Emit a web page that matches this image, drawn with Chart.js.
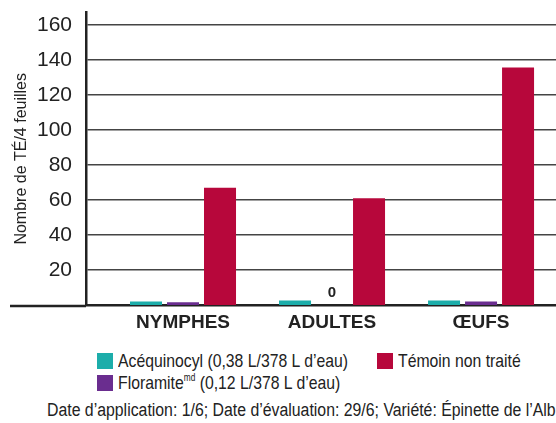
<!DOCTYPE html>
<html>
<head>
<meta charset="utf-8">
<style>
  html, body { margin: 0; padding: 0; background: #fff; overflow: hidden; }
  body { width: 556px; height: 423px; font-family: "Liberation Sans", Arial, sans-serif; color: #222; }
  #wrap { position: relative; width: 556px; height: 340px; }
  .legend { position: absolute; left: 97px; top: 352px; font-size: 19px; line-height: 18px; }
  .legend .item { position: absolute; white-space: nowrap; }
  .legend .sw { display: inline-block; width: 16px; height: 16px; vertical-align: -2px; margin-right: 5px; }
  .legend .txt { display: inline-block; transform: scaleX(0.83); transform-origin: left center; }
  .legend sup { font-size: 10px; vertical-align: 8px; line-height: 0; }
  .note { position: absolute; left: 47px; top: 400px; font-size: 18px; white-space: nowrap;
          transform: scaleX(0.88); transform-origin: left center; }
</style>
</head>
<body>
<div id="wrap"><canvas id="chart" width="556" height="340"></canvas></div>
<div class="legend">
  <div class="item" style="left:0;top:0"><span class="sw" style="background:#1cadaa"></span><span class="txt">Acéquinocyl (0,38 L/378 L d’eau)</span></div>
  <div class="item" style="left:280px;top:0"><span class="sw" style="background:#b7073b"></span><span class="txt">Témoin non traité</span></div>
  <div class="item" style="left:0;top:22px"><span class="sw" style="background:#6a2d8f"></span><span class="txt">Floramite<sup>md</sup> (0,12 L/378 L d’eau)</span></div>
</div>
<div class="note">Date d’application: 1/6; Date d’évaluation: 29/6; Variété: Épinette de l’Alberta</div>

<script src="https://cdn.jsdelivr.net/npm/chart.js"></script>
<script>
  const categories = ['NYMPHES', 'ADULTES', 'ŒUFS'];
  const acequinocyl = [2, 2.5, 2.5];
  const floramite = [1.5, 0, 2];
  const temoin = [67, 61, 135.7];
  const yTicks = [20, 40, 60, 80, 100, 120, 140, 160];

  const FONT = '"Liberation Sans", Arial, sans-serif';
  const Y_TOP = 167;

  const toPoints = arr => arr.map((v, i) => ({ x: i, y: v }));

  // "0" label over the empty Floramite bar, and the baseline running left past the axis
  const extras = {
    id: 'extras',
    afterDatasetsDraw(chart) {
      const c = chart.ctx;
      const meta = chart.getDatasetMeta(1);
      c.save();
      c.font = 'bold 15px ' + FONT;
      c.fillStyle = '#222';
      c.textAlign = 'center';
      c.textBaseline = 'middle';
      floramite.forEach((v, i) => {
        if (v === 0) {
          const bar = meta.data[i];
          c.fillText('0', bar.x, bar.y - 12);
        }
      });
      const y0 = chart.scales.y.getPixelForValue(0);
      c.strokeStyle = '#222';
      c.lineWidth = 2.5;
      c.beginPath();
      c.moveTo(10, y0 + 1);
      c.lineTo(chart.chartArea.left, y0 + 1);
      c.stroke();
      c.restore();
    }
  };

  new Chart(document.getElementById('chart'), {
    type: 'bar',
    data: {
      datasets: [
        { label: 'Acéquinocyl (0,38 L/378 L d’eau)', data: toPoints(acequinocyl), backgroundColor: '#1cadaa' },
        { label: 'Floramite (0,12 L/378 L d’eau)', data: toPoints(floramite), backgroundColor: '#6a2d8f' },
        { label: 'Témoin non traité', data: toPoints(temoin), backgroundColor: '#b7073b' }
      ]
    },
    options: {
      responsive: false,
      animation: false,
      categoryPercentage: 0.745,
      barPercentage: 0.865,
      layout: { padding: { top: 4, right: 0, bottom: 0, left: 0 } },
      plugins: { legend: { display: false }, tooltip: { enabled: false } },
      scales: {
        x: {
          type: 'linear',
          offset: false,
          min: -0.651,
          max: 2.503,
          afterBuildTicks: s => { s.ticks = categories.map((_, i) => ({ value: i })); },
          afterFit: s => { s.height = 35; },
          grid: { display: false, drawTicks: false },
          border: { display: true, color: '#222', width: 2.5 },
          ticks: {
            padding: 6,
            color: '#222',
            font: { family: FONT, size: 19, weight: 'bold' },
            callback: v => categories[v] ?? ''
          }
        },
        y: {
          min: 0,
          max: Y_TOP,
          afterBuildTicks: s => { s.ticks = [0, ...yTicks, Y_TOP].map(v => ({ value: v })); },
          afterFit: s => { s.width = 86; },
          grid: {
            color: ctx => (ctx.tick && ctx.tick.value === Y_TOP ? 'rgba(0,0,0,0)' : '#444'),
            lineWidth: 1.5,
            drawTicks: true,
            tickLength: 14,
            tickColor: 'rgba(0,0,0,0)'
          },
          border: { display: true, color: '#222', width: 2.5 },
          ticks: {
            padding: 0,
            color: '#222',
            font: { family: FONT, size: 21 },
            callback: v => (yTicks.includes(v) ? String(v) : null)
          },
          title: {
            display: true,
            text: 'Nombre de TÉ/4 feuilles',
            color: '#222',
            font: { family: FONT, size: 16 },
            padding: { top: 12, bottom: 0 }
          }
        }
      }
    },
    plugins: [extras]
  });
</script>
</body>
</html>
